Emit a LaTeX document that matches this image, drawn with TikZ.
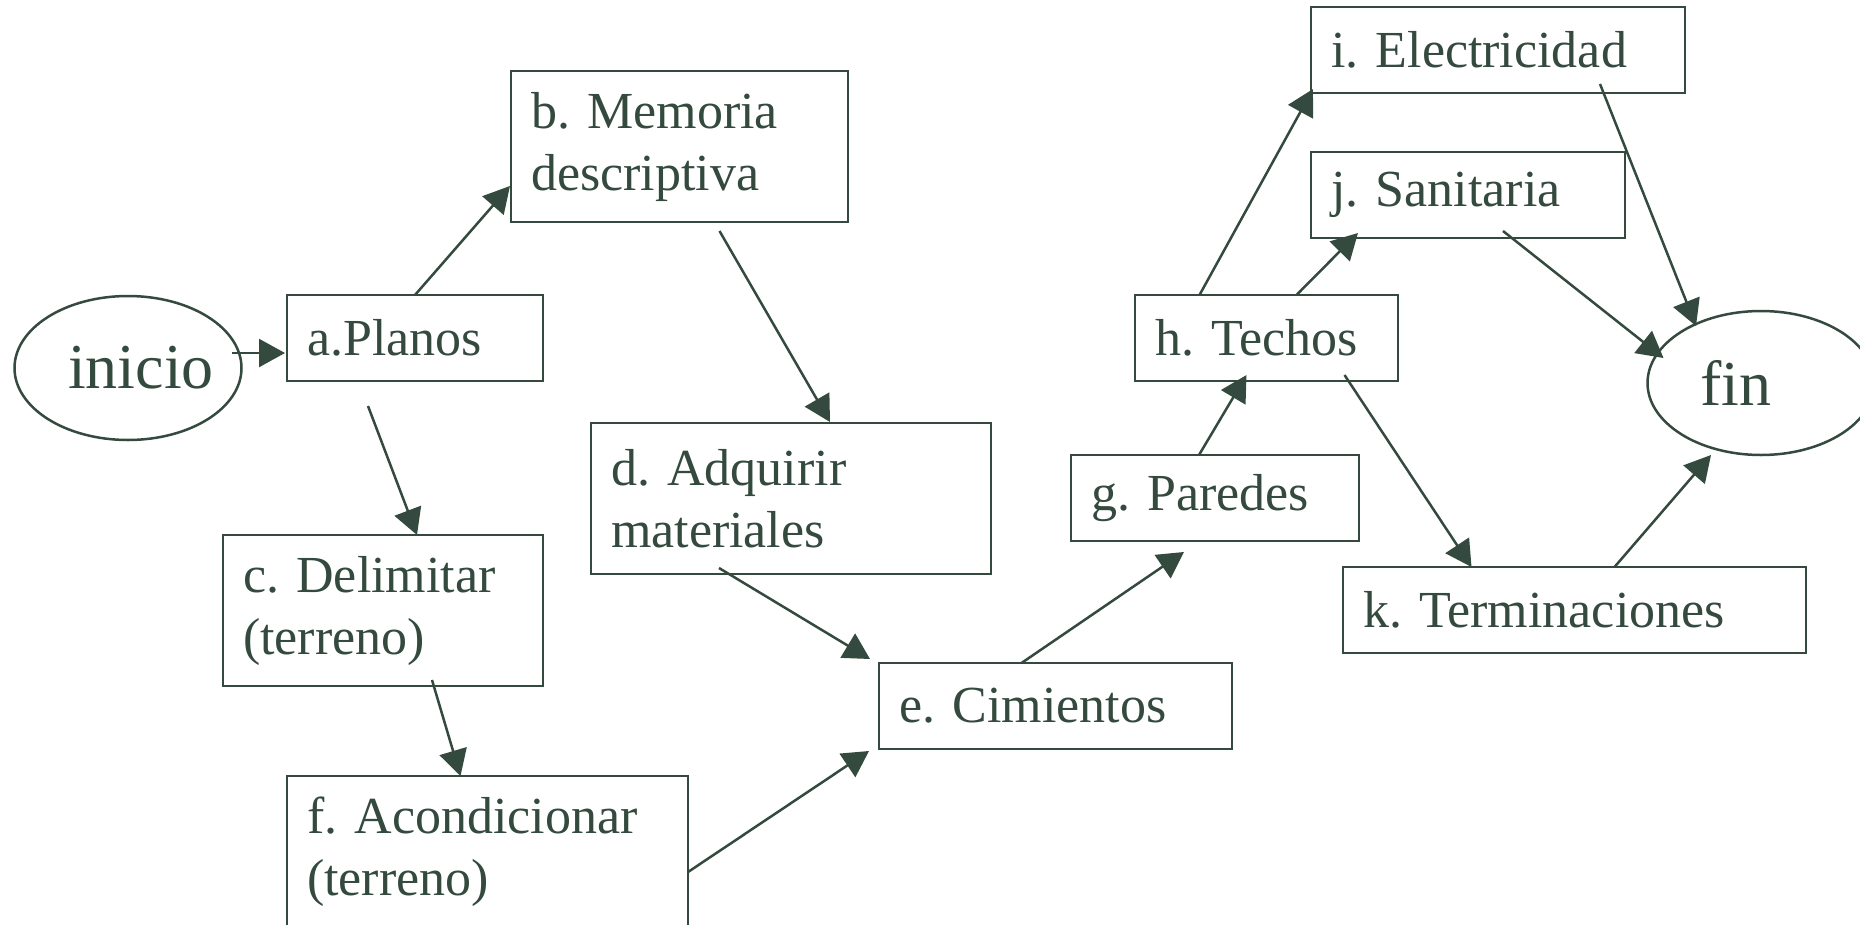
\documentclass[tikz,border=0pt]{standalone}
\usepackage{fontspec}
\setmainfont{Liberation Serif}
\frenchspacing
\usetikzlibrary{arrows.meta,shapes.geometric,calc}
\definecolor{ink}{RGB}{52,74,62}
\newcommand{\boxfont}{\fontsize{52}{62}\selectfont}
\newcommand{\ovalfont}{\fontsize{64}{76}\selectfont}
\begin{document}
\begin{tikzpicture}[x=1pt, y=-1pt, color=ink]
\tikzstyle{box} = [rectangle, draw, line width=2.5pt, anchor=north west, outer sep=0pt, inner xsep=20pt, inner ysep=0pt, align=left, font=\boxfont]
\tikzstyle{oval} = [ellipse, draw, line width=2.5pt, minimum width=227pt, minimum height=144pt, inner sep=0pt, outer sep=0pt]
\tikzstyle{edge} = [line width=2.5pt, -{Triangle[length=26pt, width=28pt]}]
\def\oneh{86pt}
\def\twoh{151pt}
\useasboundingbox (0,0) rectangle (1860,924);

% start and end
\node[oval, label={[font=\ovalfont, xshift=13pt]center:inicio}] (inicio) at (128,368) {};
\node[oval, label={[font=\ovalfont, xshift=-25pt]center:fin}] (fin) at (1761,383) {};

% tasks
\node[box, text width=216pt, minimum height=\oneh] (a) at (287,295) {a.Planos};
\node[box, text width=297pt, minimum height=\twoh] (b) at (511,71) {b. Memoria\\descriptiva};
\node[box, text width=280pt, minimum height=\twoh] (c) at (223,535) {c. Delimitar\\(terreno)};
\node[box, text width=360pt, minimum height=\twoh] (d) at (591,423) {d. Adquirir\\materiales};
\node[box, text width=313pt, minimum height=\oneh] (e) at (879,663) {e. Cimientos};
\node[box, text width=361pt, minimum height=\twoh] (f) at (287,776) {f. Acondicionar\\(terreno)};
\node[box, text width=248pt, minimum height=\oneh] (g) at (1071,455) {g. Paredes};
\node[box, text width=223pt, minimum height=\oneh] (h) at (1135,295) {h. Techos};
\node[box, text width=334pt, minimum height=\oneh] (i) at (1311,7) {i. Electricidad};
\node[box, text width=274pt, minimum height=\oneh] (j) at (1311,152) {j. Sanitaria};
\node[box, text width=423pt, minimum height=\oneh] (k) at (1343,567) {k. Terminaciones};

% precedences
\draw[edge] (inicio.east)++(-10,-15) -- ($(a.west)+(-2,15)$);
\draw[edge] (a.north) -- ($(b.south west)+(-1,-36)$);
\draw[edge] (a.south)++(-47,25) -- ($(c.north)+(34,0)$);
\draw[edge] (b.south)++(40,9) -- ($(d.north)+(39,-1)$);
\draw[edge] (c.south)++(49,-6) -- ($(f.north)+(-27,0)$);
\draw[edge] (d.south)++(-72,-6) -- ($(e.north west)+(-9,-4)$);
\draw[edge] (f.north east)++(0,96) -- ($(e.south west)+(-10,2)$);
\draw[edge] (e.north)++(-34,0) -- ($(g.south)+(-31,11)$);
\draw[edge] (g.north)++(-16,0) -- ($(h.south)+(-20,-6)$);
\draw[edge] (h.north)++(-67,0) -- ($(i.south west)+(2,-4)$);
\draw[edge] (h.north)++(30,0) -- ($(j.south west)+(47,-5)$);
\draw[edge] (h.south)++(78,-6) -- ($(k.north)+(-103,0)$);
\draw[edge] (i.south)++(102,-9) -- ($(fin.north)+(-65,15)$);
\draw[edge] (j.south)++(35,-7) -- ($(fin.west)+(16,-25)$);
\draw[edge] (k.north)++(40,0) -- ($(fin.south)+(-50,0)$);
\end{tikzpicture}
\end{document}
